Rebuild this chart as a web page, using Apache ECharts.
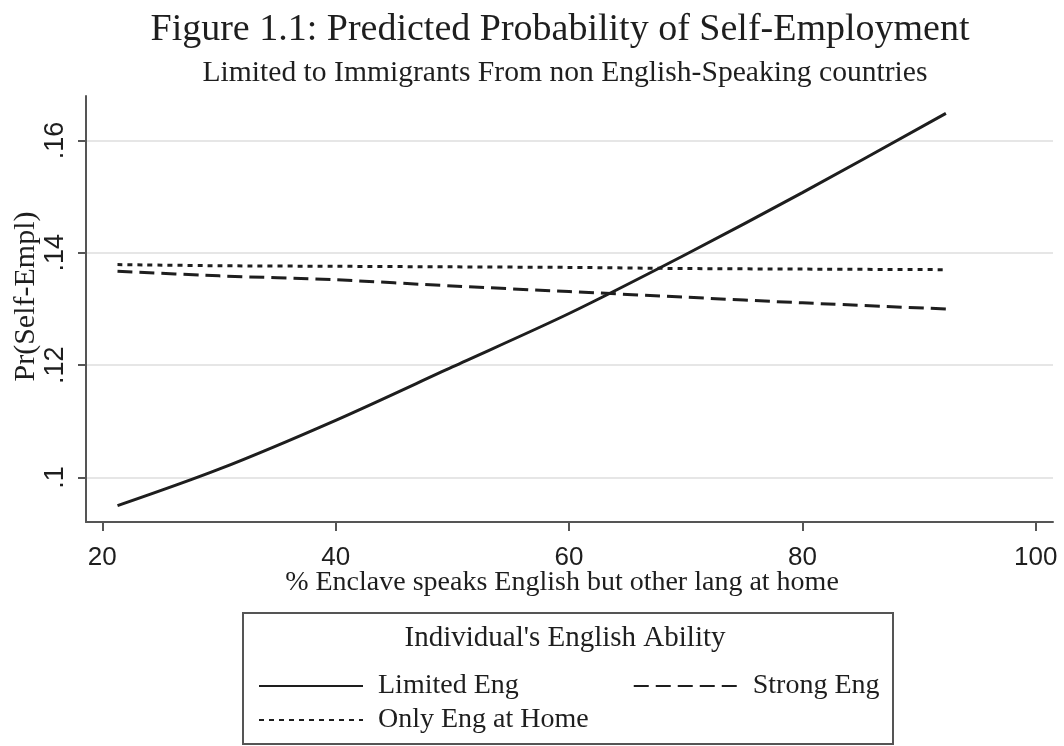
<!DOCTYPE html>
<html>
<head>
<meta charset="utf-8">
<title>Predicted Probability of Self-Employment</title>
<script src="https://cdn.jsdelivr.net/npm/echarts@6/dist/echarts.min.js"></script>
<style>
  html, body { margin: 0; padding: 0; background: #fff; }
  #chart { width: 1064px; height: 746px; }
</style>
</head>
<body>
<div id="chart"></div>
<script>
// % of the enclave that speaks English but another language at home
const enclaveShare = [21.3, 30, 40, 50, 60, 70, 80, 92.3];

// Predicted Pr(self-employment) by individual's English ability
const limitedEng  = [0.0950, 0.1015, 0.1102, 0.1197, 0.1292, 0.1397, 0.1507, 0.1648];
const strongEng   = [0.1367, 0.1359, 0.1352, 0.1341, 0.1331, 0.1321, 0.1311, 0.1300];
const onlyEngHome = [0.1379, 0.1377, 0.1376, 0.1375, 0.1374, 0.1372, 0.1371, 0.1370];

const seriesNames = ['Limited Eng', 'Strong Eng', 'Only Eng at Home'];

const xTicks = [20, 40, 60, 80, 100];
const yTicks = [0.10, 0.12, 0.14, 0.16];

const titleText = 'Figure 1.1: Predicted Probability of Self-Employment';
const subtitleText = 'Limited to Immigrants From non English-Speaking countries';
const legendTitleText = "Individual's English Ability";

const SERIF = '"Liberation Serif", "Times New Roman", serif';
const SANS = '"Liberation Sans", Arial, sans-serif';
const INK = '#1e1e1e';
const AXIS = '#555';

function pairs(xs, ys) {
  return xs.map((x, i) => [x, ys[i]]);
}

function lineSeries(name, values, dash) {
  return {
    name: name,
    type: 'line',
    data: pairs(enclaveShare, values),
    symbol: 'none',
    smooth: 0.3,
    silent: true,
    itemStyle: { color: 'rgba(0,0,0,0)', borderWidth: 0 },
    lineStyle: { color: INK, width: 3, type: dash },
    emphasis: { disabled: true }
  };
}

function headingText(text, cx, top, size) {
  return {
    type: 'text', silent: true, x: cx, y: top,
    style: {
      text: text, fill: INK,
      font: size + 'px ' + SERIF,
      textAlign: 'center', textVerticalAlign: 'top'
    }
  };
}

const chart = echarts.init(document.getElementById('chart'), null, { renderer: 'canvas' });

const legendText = { fontFamily: SERIF, fontSize: 28, color: INK, padding: [0, 0, 0, 10] };

chart.setOption({
  backgroundColor: '#fff',
  animation: false,
  legend: [
    {
      data: [seriesNames[0], seriesNames[1]],
      orient: 'horizontal', left: 253, top: 667,
      itemWidth: 104, itemHeight: 12, itemGap: 114,
      selectedMode: false,
      itemStyle: { opacity: 0 },
      textStyle: legendText
    },
    {
      data: [seriesNames[2]],
      orient: 'horizontal', left: 253, top: 701,
      itemWidth: 104, itemHeight: 12,
      selectedMode: false,
      itemStyle: { opacity: 0 },
      textStyle: legendText
    }
  ],
  graphic: [
    headingText(titleText, 560, 11, 38),
    headingText(subtitleText, 565, 58, 29.6),
    headingText(legendTitleText, 565, 624, 29),
    {
      type: 'rect', silent: true,
      shape: { x: 243, y: 613, width: 650, height: 131 },
      style: { fill: 'none', stroke: AXIS, lineWidth: 2 }
    }
  ],
  grid: { left: 86, right: 11, top: 96, bottom: 224, containLabel: false, outerBoundsMode: 'none' },
  xAxis: {
    type: 'value',
    min: 18.6, max: 101.48,
    name: '% Enclave speaks English but other lang at home',
    nameLocation: 'middle', nameGap: 47, nameMoveOverlap: false,
    nameTextStyle: { fontFamily: SERIF, fontSize: 28, color: INK, padding: [0, 15, 0, 0] },
    axisLine: { show: true, onZero: false, lineStyle: { color: AXIS, width: 2 } },
    axisTick: { show: true, inside: false, length: 9, customValues: xTicks, lineStyle: { color: AXIS, width: 2 } },
    axisLabel: { customValues: xTicks, margin: 23, fontFamily: SANS, fontSize: 26, color: INK },
    splitLine: { show: false }
  },
  yAxis: {
    type: 'value',
    min: 0.0921, max: 0.1679,
    name: 'Pr(Self-Empl)',
    nameLocation: 'middle', nameGap: 45, nameMoveOverlap: false,
    nameRotate: 90,
    nameTextStyle: { fontFamily: SERIF, fontSize: 30, color: INK, padding: [0, 0, 0, 25] },
    axisLine: { show: true, onZero: false, lineStyle: { color: AXIS, width: 2 } },
    axisTick: { show: true, inside: false, length: 8, customValues: yTicks, lineStyle: { color: AXIS, width: 2 } },
    axisLabel: {
      customValues: yTicks, rotate: 90, margin: 17,
      fontFamily: SANS, fontSize: 27, color: INK,
      formatter: v => String(+v.toFixed(2)).replace(/^0\./, '.')
    },
    splitLine: { show: true, lineStyle: { color: '#e6e6e6', width: 2 } }
  },
  series: [
    lineSeries(seriesNames[0], limitedEng, 'solid'),
    lineSeries(seriesNames[1], strongEng, [15, 7]),
    lineSeries(seriesNames[2], onlyEngHome, [5, 5])
  ]
});
</script>
</body>
</html>
